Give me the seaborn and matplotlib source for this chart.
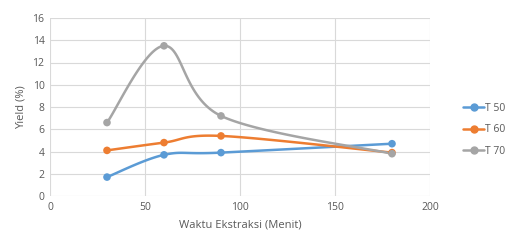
import numpy as np
import pandas as pd
import matplotlib
matplotlib.use('Agg')
import matplotlib.pyplot as plt
import seaborn as sns
from matplotlib.lines import Line2D

# ── data ──────────────────────────────
waktu = [30, 60, 90, 180]
t50 = [1.7, 3.7, 3.9, 4.7]
t60 = [4.1, 4.8, 5.4, 3.9]
t70 = [6.6, 13.5, 7.2, 3.8]
series_names = ['T 50', 'T 60', 'T 70']
colors = ['#5B9BD5', '#ED7D31', '#A5A5A5']


def smooth(xs, ys, n=40):
    # Excel-style smoothed line (Catmull-Rom as Bezier)
    P = np.column_stack([xs, ys]).astype(float)
    P = np.vstack([P[0], P, P[-1]])
    out = []
    for i in range(1, len(P) - 2):
        p0, p1, p2, p3 = P[i - 1], P[i], P[i + 1], P[i + 2]
        c1 = p1 + (p2 - p0) / 6
        c2 = p2 - (p3 - p1) / 6
        t = np.linspace(0, 1, n)[:, None]
        seg = ((1 - t) ** 3) * p1 + 3 * ((1 - t) ** 2) * t * c1 + 3 * (1 - t) * t ** 2 * c2 + t ** 3 * p2
        out.append(seg if i == 1 else seg[1:])
    return np.vstack(out)


sns.set_style('white')
plt.rcParams['font.family'] = ['Open Sans', 'DejaVu Sans']

fig = plt.figure(figsize=(5.11, 2.40), dpi=100)
ax = fig.add_axes([50 / 511, 1 - 196 / 240, 380 / 511, 178 / 240])

pal = dict(zip(series_names, colors))
points = pd.DataFrame({
    'x': waktu * 3,
    'y': t50 + t60 + t70,
    'seri': [s for s in series_names for _ in waktu],
})

# smoothed lines, one per series
for name, vals in zip(series_names, [t50, t60, t70]):
    c = smooth(waktu, vals)
    d = pd.DataFrame({'x': c[:, 0], 'y': c[:, 1]})
    sns.lineplot(data=d, x='x', y='y', sort=False, estimator=None, color=pal[name],
                 lw=1.8, ax=ax, legend=False)

sns.scatterplot(data=points, x='x', y='y', hue='seri', palette=pal, s=30,
                edgecolor='none', ax=ax, legend=False, zorder=3)

ax.set_xlim(0, 200)
ax.set_ylim(0, 16)
ax.set_xticks(range(0, 201, 50))
ax.set_yticks(range(0, 17, 2))
ax.grid(True, color='#D9D9D9', lw=0.8)
for s in ax.spines.values():
    s.set_visible(False)
ax.tick_params(length=0, labelsize=7.5, colors='#595959', pad=4)
ax.set_xlabel('Waktu Ekstraksi (Menit)', fontsize=8, color='#595959', labelpad=5)
ax.set_ylabel('Yield (%)', fontsize=8, color='#595959', labelpad=4)

handles = [Line2D([0], [0], color=c, lw=1.8, marker='o', markersize=5) for c in colors]
fig.legend(handles, series_names, loc='center left', bbox_to_anchor=(458 / 511, 1 - 130 / 240),
           frameon=False, fontsize=7.5, labelcolor='#595959', handlelength=2.0,
           handletextpad=0.1, labelspacing=1.0, borderpad=0)

fig.savefig('out.png', dpi=100)
